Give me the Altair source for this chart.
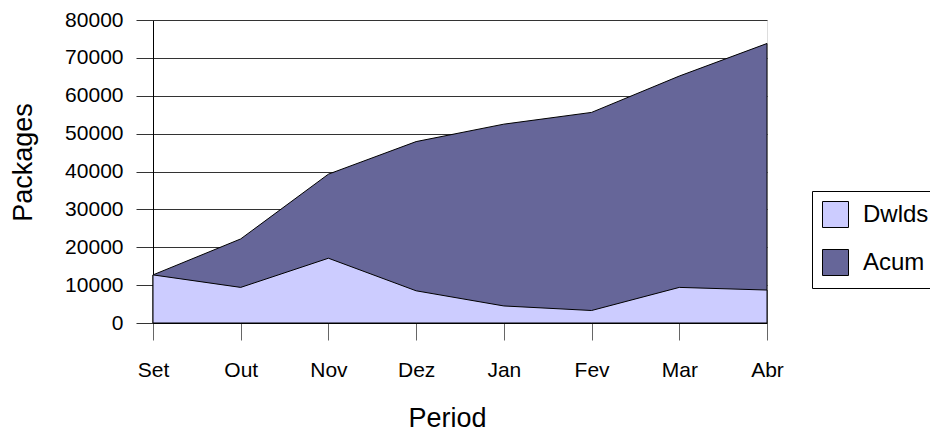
import altair as alt
import pandas as pd

months = ["Set", "Out", "Nov", "Dez", "Jan", "Fev", "Mar", "Abr"]
dwlds = [12700, 9400, 17100, 8500, 4500, 3300, 9400, 8700]
acum = [12700, 22200, 39300, 47900, 52500, 55600, 65200, 73800]
series = ["Dwlds", "Acum"]
colors = ["#ccccff", "#666699"]
y_ticks = [0, 10000, 20000, 30000, 40000, 50000, 60000, 70000, 80000]

df_d = pd.DataFrame({"Period": months, "Packages": dwlds, "Series": "Dwlds"})
df_a = pd.DataFrame({"Period": months, "Packages": acum, "Series": "Acum"})

x_enc = alt.X(
    "Period:N",
    sort=months,
    scale=alt.Scale(type="point", padding=0),
    axis=alt.Axis(
        title="Period",
        labelAngle=0,
        labelFontSize=21,
        labelPadding=19,
        labelColor="black",
        tickSize=17,
        tickColor="#666666",
        domainColor="black",
        titleFontSize=27,
        titleFontWeight="normal",
        titleColor="black",
        titleX=294,
        titleY=103,
        titleBaseline="alphabetic",
        titleAlign="center",
        grid=False,
    ),
)
y_enc = alt.Y(
    "Packages:Q",
    stack=None,
    scale=alt.Scale(domain=[0, 80000], nice=False),
    axis=alt.Axis(
        title="Packages",
        values=y_ticks,
        format="d",
        labelFontSize=21,
        labelPadding=13,
        labelColor="black",
        tickSize=17,
        tickColor="#333333",
        domainColor="black",
        gridColor="#333333",
        gridOpacity=1,
        titleFontSize=27,
        titleFontWeight="normal",
        titleColor="black",
        titleAngle=270,
        titleX=-122,
        titleY=142,
        titleBaseline="alphabetic",
        titleAlign="center",
    ),
)
color_enc = alt.Color(
    "Series:N",
    scale=alt.Scale(domain=series, range=colors),
    legend=alt.Legend(
        title=None,
        orient="none",
        legendX=659,
        legendY=171,
        symbolType="square",
        symbolSize=676,
        symbolStrokeColor="black",
        symbolStrokeWidth=1,
        symbolOpacity=1,
        labelFontSize=24,
        labelColor="black",
        labelOffset=14,
        rowPadding=17,
        padding=10,
        strokeColor="black",
        fillColor="white",
    ),
)

acum_layer = alt.Chart(df_a).mark_area(stroke="black", strokeWidth=1, opacity=1).encode(
    x=x_enc, y=y_enc, color=color_enc
)
dw_layer = alt.Chart(df_d).mark_area(stroke="black", strokeWidth=1, opacity=1).encode(
    x=x_enc, y=y_enc, color=color_enc
)

chart = (
    alt.layer(acum_layer, dw_layer)
    .properties(
        width=614,
        height=303,
        padding={"left": 145, "top": 12, "right": 163, "bottom": 107},
        autosize=alt.AutoSizeParams(type="none"),
    )
    .configure_view(stroke=None)
    .configure(font="Liberation Sans")
)

chart.save("out.html", embed_options={"renderer": "svg", "actions": False})
